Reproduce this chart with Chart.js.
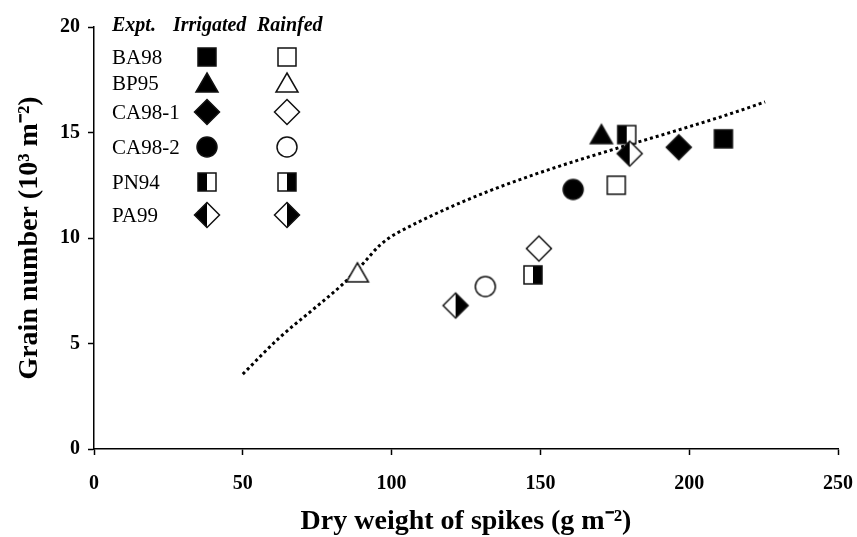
<!DOCTYPE html>
<html>
<head>
<meta charset="utf-8">
<script src="https://cdn.jsdelivr.net/npm/chart.js@4"></script>
<style>
  body { margin: 0; background: #fff; }
  #wrap { position: relative; width: 857px; height: 537px; }
  #legend { position: absolute; left: 0; top: 0; font-family: "Liberation Serif", "Times New Roman", serif; color: #000; }
  #legend .txt { position: absolute; white-space: nowrap; line-height: 1; transform: translateY(-50%); }
  #legend .head { font-style: italic; font-weight: bold; font-size: 20px; }
  #legend .row { font-size: 21px; }
  #legend canvas { position: absolute; }
</style>
</head>
<body>
<div id="wrap">
  <canvas id="myChart" width="857" height="537"></canvas>
  <div id="legend"></div>
</div>
<script>
// experiments and their marker kinds
const experiments = ["BA98", "BP95", "CA98-1", "CA98-2", "PN94", "PA99"];
const irrigatedMarkers = ["square-filled", "triangle-filled", "diamond-filled", "circle-filled", "square-left", "diamond-left"];
const rainfedMarkers = ["square-open", "triangle-open", "diamond-open", "circle-open", "square-right", "diamond-right"];

// dry weight of spikes (g m-2) and grain number (10^3 m-2)
const irrigatedDW = [211.5, 170.5, 196.5, 161, 179, 180];
const irrigatedGN = [14.7, 14.9, 14.3, 12.3, 14.9, 14.0];
const rainfedDW = [175.5, 88.5, 149.5, 131.5, 147.5, 121.5];
const rainfedGN = [12.5, 8.35, 9.5, 7.7, 8.25, 6.8];

// dotted boundary line
const lineDW = [50, 62.5, 73.5, 83.5, 90.5, 96, 102, 225.5];
const lineGN = [3.55, 5.3, 6.6, 7.8, 8.8, 9.65, 10.25, 16.45];

// axis ticks
const xTicks = [0, 50, 100, 150, 200, 250];
const yTicks = [0, 5, 10, 15, 20];

const serif = '"Liberation Serif", "Times New Roman", serif';

// draws one marker on a small canvas, used as pointStyle
function makeMarker(kind) {
    const size = 30;
    const c = document.createElement("canvas");
    c.width = size;
    c.height = size;
    const ctx = c.getContext("2d");
    const m = size / 2;
    const [shape, fill] = kind.split("-");
    ctx.lineWidth = 1.5;
    ctx.strokeStyle = "#111";

    function path() {
        ctx.beginPath();
        if (shape === "square") {
            ctx.rect(m - 9, m - 9, 18, 18);
        } else if (shape === "triangle") {
            ctx.moveTo(m, m - 10);
            ctx.lineTo(m + 11, m + 9);
            ctx.lineTo(m - 11, m + 9);
            ctx.closePath();
        } else if (shape === "diamond") {
            ctx.moveTo(m, m - 12.5);
            ctx.lineTo(m + 12.5, m);
            ctx.lineTo(m, m + 12.5);
            ctx.lineTo(m - 12.5, m);
            ctx.closePath();
        } else {
            ctx.arc(m, m, 10, 0, Math.PI * 2);
        }
    }

    path();
    ctx.fillStyle = fill === "filled" ? "#000" : "#fff";
    ctx.fill();
    if (fill === "left" || fill === "right") {
        // half filled marker
        ctx.save();
        path();
        ctx.clip();
        ctx.fillStyle = "#000";
        if (fill === "left") ctx.fillRect(0, 0, m, size);
        else ctx.fillRect(m, 0, m, size);
        ctx.restore();
    }
    path();
    ctx.stroke();
    return c;
}

function toPoints(xs, ys) {
    return xs.map((x, i) => ({ x: x, y: ys[i] }));
}

function buildLegend() {
    const legend = document.getElementById("legend");
    const rowY = [57, 83, 112, 147, 182, 215];

    const heads = [["Expt.", 112], ["Irrigated", 173], ["Rainfed", 257]];
    heads.forEach(([t, x]) => {
        const s = document.createElement("span");
        s.className = "txt head";
        s.textContent = t;
        s.style.left = x + "px";
        s.style.top = "24px";
        legend.appendChild(s);
    });

    experiments.forEach((name, i) => {
        const s = document.createElement("span");
        s.className = "txt row";
        s.textContent = name;
        s.style.left = "112px";
        s.style.top = rowY[i] + "px";
        legend.appendChild(s);

        [[irrigatedMarkers[i], 207], [rainfedMarkers[i], 287]].forEach(([kind, cx]) => {
            const mk = makeMarker(kind);
            mk.style.left = (cx - 15) + "px";
            mk.style.top = (rowY[i] - 15) + "px";
            legend.appendChild(mk);
        });
    });
}

function loadChart() {
    const data = {
        datasets: [
            {
                label: "Irrigated",
                data: toPoints(irrigatedDW, irrigatedGN),
                pointStyle: irrigatedMarkers.map(makeMarker),
                pointRadius: 12
            },
            {
                label: "Rainfed",
                data: toPoints(rainfedDW, rainfedGN),
                pointStyle: rainfedMarkers.map(makeMarker),
                pointRadius: 12
            },
            {
                label: "Boundary",
                data: toPoints(lineDW, lineGN),
                showLine: true,
                borderColor: "#000",
                borderWidth: 3,
                borderDash: [3, 3],
                pointRadius: 0,
                cubicInterpolationMode: "monotone"
            }
        ]
    };

    const tickFont = { family: serif, size: 20, weight: "bold" };
    // tall line height pushes the x labels down without widening the right margin
    const xTickFont = { family: serif, size: 20, weight: "bold", lineHeight: 2.5 };
    const titleFont = { family: serif, size: 28, weight: "bold", lineHeight: 1.1 };

    const config = {
        type: "scatter",
        data,
        options: {
            responsive: false,
            animation: false,
            devicePixelRatio: 1,
            layout: { padding: { top: 27, right: 19, left: 0, bottom: 0 } },
            plugins: { legend: { display: false }, tooltip: { enabled: false } },
            scales: {
                x: {
                    type: "linear",
                    min: xTicks[0],
                    max: xTicks[xTicks.length - 1],
                    afterBuildTicks: (s) => { s.ticks = xTicks.map(v => ({ value: v })); },
                    ticks: { font: xTickFont, color: "#000", padding: 4, maxRotation: 0 },
                    grid: { drawOnChartArea: false, tickLength: 6, color: "#000", tickWidth: 1.5 },
                    border: { color: "#000", width: 1.5 },
                    title: { display: true, text: "Dry weight of spikes (g m⁻²)", font: titleFont, color: "#000", padding: 0 },
                    afterFit: (s) => { s.height = 88; }
                },
                y: {
                    type: "linear",
                    min: yTicks[0],
                    max: yTicks[yTicks.length - 1],
                    afterBuildTicks: (s) => { s.ticks = yTicks.map(v => ({ value: v })); },
                    ticks: { font: tickFont, color: "#000", padding: 8 },
                    grid: { drawOnChartArea: false, tickLength: 6, color: "#000", tickWidth: 1.5 },
                    border: { color: "#000", width: 1.5 },
                    title: { display: true, text: "Grain number (10³ m⁻²)", font: titleFont, color: "#000", padding: { top: 14, bottom: 4 } },
                    afterFit: (s) => { s.width = 94; }
                }
            }
        }
    };

    const canvas = document.getElementById("myChart");
    new Chart(canvas, config);
}

buildLegend();
loadChart();
</script>
</body>
</html>
